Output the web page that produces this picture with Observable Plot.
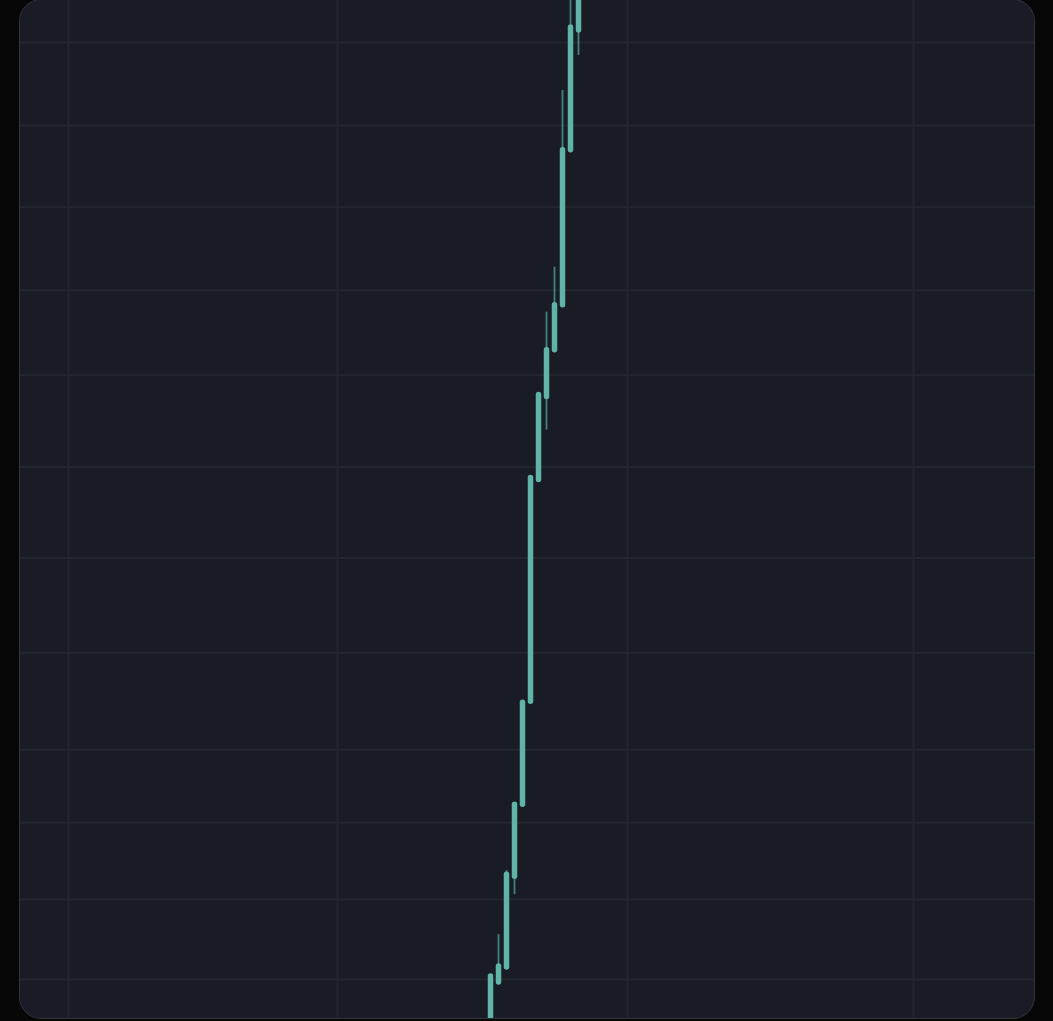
<!DOCTYPE html>
<html>
<head>
<meta charset="utf-8">
<script src="https://cdn.jsdelivr.net/npm/d3@7"></script>
<script src="https://cdn.jsdelivr.net/npm/@observablehq/plot@0.6"></script>
<style>
  html, body { margin: 0; padding: 0; background: #070707; width: 1053px; height: 1021px; overflow: hidden; }
  #panel {
    position: absolute; left: 19px; top: -1px; width: 1014px; height: 1018px;
    background: #1a1c25; border: 1px solid #30333a; border-radius: 22px; overflow: hidden;
  }
  #panel svg { display: block; background: transparent; }
</style>
</head>
<body>
<div id="panel"></div>
<script>
// Candle index (time step)
const candleIndex = [0, 1, 2, 3, 4, 5, 6, 7, 8, 9, 10, 11];
// Prices
const opens  = [ 99.0, 103.7, 105.2, 114.3, 121.5, 131.8, 154.0, 162.3, 167.0, 171.5, 187.0, 199.0];
const closes = [104.3, 105.3, 114.5, 121.5, 131.7, 154.2, 162.5, 167.0, 171.5, 187.0, 199.3, 204.0];
const highs  = [104.5, 108.5, 114.9, 121.7, 131.9, 154.4, 162.7, 170.8, 175.3, 193.0, 203.0, 205.0];
const lows   = [ 98.0, 103.5, 105.0, 112.5, 121.3, 131.6, 153.8, 159.0, 166.8, 171.3, 186.8, 196.5];

// Grid lines (price levels and time positions)
const gridPrices = [197.8, 189.5, 181.3, 173.0, 164.5, 155.3, 146.2, 136.7, 127.0, 119.7, 112.0, 104.0];
const gridTimes = [-52.75, -19.125, 17.125, 52.875];

const candles = candleIndex.map((t, i) => ({
  t, open: opens[i], close: closes[i], high: highs[i], low: lows[i]
}));

const W = 1014, H = 1018;
const chart = Plot.plot({
  width: W,
  height: H,
  margin: 0,
  x: {type: "linear", domain: [-58.75, 68.0], axis: null},
  y: {type: "linear", domain: [100.1, 202], axis: null},
  style: {background: "transparent"},
  marks: [
    Plot.ruleY(gridPrices, {stroke: "#22262f", strokeWidth: 2}),
    Plot.ruleX(gridTimes, {stroke: "#22262f", strokeWidth: 2}),
    Plot.ruleX(candles, {x: "t", y1: "low", y2: "high", stroke: "#4f9a92", strokeWidth: 1.8, strokeOpacity: 0.8, clip: true}),
    Plot.ruleX(candles, {x: "t", y1: "open", y2: "close", stroke: "#5fb3a8", strokeWidth: 5.5, strokeLinecap: "round", clip: true})
  ]
});
document.getElementById("panel").appendChild(chart);
</script>
</body>
</html>
